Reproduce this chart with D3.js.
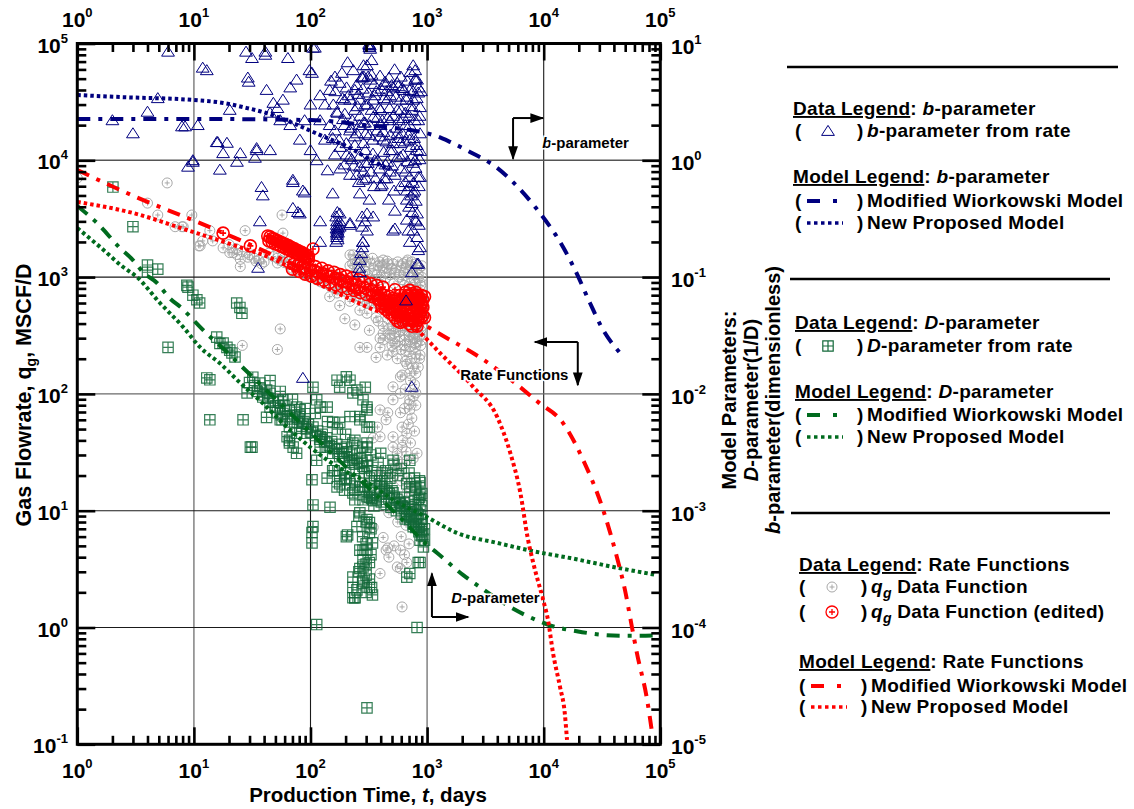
<!DOCTYPE html>
<html><head><meta charset="utf-8">
<script src="https://cdn.jsdelivr.net/npm/d3@7"></script>
<style>
body{margin:0;background:#fff}
svg{display:block;font-family:"Liberation Sans",Arial,Helvetica,sans-serif}
</style>
</head><body>
<svg id="chart" width="1134" height="809"></svg>
<script>
// ---------------- data: b-parameter (right axis, dimensionless) ----------------
const bFromRate = [
[6.0,8.5],[11.9,6.2],[28,8.5],[31.5,7.5],[41,8.0],[42,4.0],[64,7.5],[105,9.2],[29,5.1],[29.5,4.7],[67,4.2],[76,4.9],[98,5.9],
[2.0,2.2],[4.0,2.6],[4.9,3.4],[3.0,1.7],[7.9,1.95],[10.8,2.0],[20.3,2.7],[15.7,1.43],[19.2,1.41],[25,1.15],[34.5,1.22],[45,1.22],
[8.9,0.88],[9.8,0.97],[16.7,0.83],[23.4,0.97],[33.4,1.05],[38,0.59],[39,0.5],[70.6,0.65],[86,0.55],[70.6,0.39],[81,0.35],[36.8,0.3],
[121,0.3],[121,0.2],[35.5,0.12],[48,3.1],[58,3.3],[45,2.55],[52,2.8],[12.9,5.9],[41,8.5],[103,5.6],[109,9.2],[208,6.9],[320,9.7],
[334,7.2],[305,6.5],[277,5.1],[334,5.4],[760,6.5],[790,4.9],[8.4,1.95],[9.8,1.0],[16,1.43],[17.8,1.15],[34.5,1.27],[70.6,0.68],
[89,0.53],[78,0.36],[178,0.35],[178,0.3],[172,0.24],[169,0.22],[172,0.26],[166,0.2],[218,0.28],[277,0.33],[294,0.3],[305,0.25],
[282,0.2],[530,0.26],[265,0.14],[265,0.11],[820,0.13],[840,0.17],[790,0.31],[820,0.35],[670,0.46],[760,0.53],[760,0.64],[710,0.72],
[870,0.72],[660,0.063],[740,0.11],[740,0.0115],[86,0.0137],
[285,6.5],[312,5.2],[277,5.2],[320,9.3],[510,4.2],[555,4.6],[610,4.15],[790,5.9],[820,4.9],[840,3.8],[760,3.3],[670,3.5],[650,2.55],
[555,2.7],[455,3.3],[400,2.7],[345,2.35],[285,2.1],[250,1.7],[218,1.8],[190,2.25],[170,2.55],[155,1.55],[180,1.3],[218,1.07],
[265,0.88],[282,0.68],[265,0.52],[320,0.46],[305,0.35],[277,0.27],[178,0.27],[218,0.29],[345,0.33],[510,0.25],[670,0.31],[740,0.43],
[670,0.55],[760,0.95],[820,1.22],[840,0.72],[590,1.07],[480,1.22],[420,1.5],[555,1.7],[710,1.5],[870,1.7],[840,2.2],[870,2.85],
[155,0.52],[162,5.2],[282,0.2],[870,0.18],[840,0.13],[710,0.2],
[121,3.6],[133,3.0],[146,4.0],[196,3.3],[240,4.0],[265,3.3],[355,3.6],[440,4.4],[480,3.6],[590,3.3],[710,4.0],[240,2.7],[295,3.0],
[196,2.0],[146,2.0],[121,2.2],[133,1.5],[240,1.35],[320,1.65],[400,2.0],[480,2.2],[650,2.0],[295,1.22],[355,1.0],[440,0.92],
[530,0.75],[590,0.6],[650,0.8],[790,1.0],[218,0.75],[400,0.6],[470,0.46],[530,0.37],[113,1.0],[100,1.22],[81,1.5],[89,2.2],
[100,3.0],[67,2.0],[55,2.2],[590,1.4],[710,2.0],[740,2.7],[162,1.12],[196,0.92],[140,0.82],
[169,0.23],[170,0.25],[168,0.28],[171,0.21],[166,0.33],[170,0.36],[318,9.9],[322,9.6],[325,9.0],[262,0.12],
[150,4.8],[163,3.9],[178,4.6],[186,5.6],[204,4.2],[212,3.6],[233,5.9],[248,4.4],[258,3.7],[281,4.1],[287,5.2],[313,3.8],[327,4.9],
[352,4.5],[366,3.9],[395,5.3],[404,4.1],[436,4.7],[447,3.9],[472,5.1],[497,4.4],[526,6.0],[566,4.3],[596,5.2],[633,4.0],[676,4.8],
[716,5.7],[757,3.9],[795,5.0],[846,4.2],
[157,3.0],[168,2.6],[188,3.4],[197,2.5],[219,3.3],[228,2.2],[253,2.9],[266,2.4],[293,2.1],[306,3.0],[334,2.7],[347,3.3],[373,2.3],
[388,2.8],[413,2.2],[427,3.4],[458,2.3],[476,2.8],[512,2.4],[537,3.5],[574,2.2],[597,2.7],[628,2.3],[664,3.3],[703,2.4],[737,2.9],
[783,2.2],[815,3.4],[862,2.4],[886,3.9],
[162,1.8],[176,1.5],[203,1.4],[222,1.9],[238,1.6],[262,2.0],[284,1.4],[297,1.7],[323,2.0],[342,1.5],[372,1.8],[392,1.6],[423,1.75],
[447,1.45],[483,1.65],[508,1.4],[544,1.9],[567,1.55],[613,1.7],[648,1.45],[694,1.65],[726,1.3],[773,1.55],[816,1.35],[872,1.2],
[204,1.12],[226,1.02],[263,1.08],[296,0.95],[343,1.14],[377,1.0],[424,1.18],[457,0.97],[504,1.22],[556,1.06],[623,1.12],[677,0.98],
[744,1.08],[797,0.86],[862,1.02],
[600,0.85],[650,0.65],[700,0.6],[730,0.5],[780,0.55],[800,0.45],[850,0.6],[700,0.4],[750,0.36],[800,0.3],[690,0.25],[760,0.25],
[820,0.22],[850,0.28],[180,0.85],[250,0.75],[300,0.7],[330,0.8],[350,0.6],[430,0.7],[480,0.8],[520,0.55],
[168,0.24],[171,0.27],[169,0.3],[167,0.26],[272,0.16],[278,0.18],
[235,0.9],[260,0.65],[285,0.8],[310,0.95],[360,0.7],[390,0.85],[410,0.62],[450,0.7],[500,0.9]
];
const bModWiorkowski = [[1,2.26],[10,2.26],[100,2.21],[300,2.0],[1120,1.65],[1570,1.44],[2330,1.18],[3990,0.86],[5460,0.65],
[8590,0.39],[14650,0.181],[18580,0.115],[24950,0.060],[31600,0.0367],[45100,0.0224]];
const bNewModel = [[1,3.62],[2.33,3.48],[10,3.28],[17.8,3.1],[28.6,2.8],[39.2,2.59],[66.8,2.13],[120,1.65],[219,1.27],[306,1.05],
[396,0.91],[482,0.84]];

// ---------------- data: D-parameter (right axis, 1/D) ----------------
const dFromRate = [
[2.02,0.59],[3.0,0.27],[4.0,0.127],[4.9,0.117],[4.0,0.11],[8.7,0.085],[8.9,0.082],[9.8,0.070],[11.2,0.060],[6.0,0.025],[12.9,0.0137],
[13.7,0.006],[26.4,0.006],[31.5,0.0035],[23.3,0.060],[24.8,0.055],[25.8,0.049],[15.7,0.0306],[16.7,0.027],[19.2,0.025],[21.2,0.0224],
[22.5,0.0207],[28.6,0.0102],[32,0.0139],[36.8,0.0124],[42,0.0108],[45,0.0077],[52,0.0069],[57,0.006],[63,0.0043],[71,0.0035],
[81,0.0073],[86,0.0056],[93,0.0046],[113,0.0089],[139,0.0077],[169,0.0131],[218,0.0131],[250,0.0108],[282,0.0089],[305,0.0073],
[265,0.006],[305,0.0052],[231,0.0038],[190,0.0031],[121,0.0035],[113,0.0027],[103,0.00184],[105,0.00112],[147,0.00107],[155,0.0022],
[203,0.0019],[265,0.0016],[282,0.00124],[320,0.00142],[265,0.00096],[320,0.00079],[105,0.00073],[30.5,0.0035],[66,0.0038],[76,0.0031],
[103,0.00053],[169,0.0016],[203,0.0006],[231,0.00142],[305,0.00084],[320,0.00065],[305,0.00046],[282,0.00038],[231,0.00027],
[231,0.00022],[240,0.00018],[320,0.00022],[340,0.00019],[265,0.00046],[282,0.00033],[340,0.00053],[305,0.0035],[305,0.0027],
[400,0.0031],[455,0.0021],[400,0.0017],[510,0.00142],[590,0.00108],[670,0.00089],[760,0.00073],[870,0.00056],[930,0.00049],
[670,0.0017],[710,0.0016],[870,0.00174],[710,0.0027],[870,0.00036],[710,0.00029],[670,0.00027],[218,0.0026],[178,0.0029],
[139,0.0019],[340,0.00124],[10.6,0.064],[13.7,0.0132],[17.8,0.0272],[20.3,0.0237],[39,0.0094],[42,0.0063],[55,0.006],[58,0.0089],
[66,0.0052],[76,0.0077],[81,0.0064],[76,0.0046],[66,0.004],[105,0.0114],[121,0.0077],[155,0.0057],[178,0.0114],[203,0.014],
[231,0.0102],[295,0.0114],[305,0.0077],[320,0.0052],[265,0.0064],[218,0.0064],[178,0.0057],[121,0.0043],[139,0.0035],[155,0.0031],
[203,0.0035],[231,0.0027],[282,0.0024],[265,0.0031],[305,0.0038],[510,0.0027],[103,0.00065],[208,0.00062],[250,0.00073],
[282,0.00046],[320,0.00036],[282,0.00024],[240,0.00018],[113,0.000106],[305,0.0000205],[820,0.0001],[840,0.00036],[334,0.00022],
[231,0.00018],[265,0.00032],
[305,0.00132],[334,0.00128],[365,0.00124],[405,0.00119],[445,0.00113],[490,0.00107],[545,0.001],[600,0.00094],[650,0.00085],
[710,0.00084],[760,0.00077],[800,0.00072],[850,0.00066],[900,0.00061],[950,0.00056],[320,0.0015],[400,0.0014],[470,0.00128],
[590,0.00115],[710,0.00102],[840,0.00092],[900,0.00084],[790,0.0015],[870,0.00137],[840,0.00125],[790,0.00113],[870,0.00102],
[900,0.00076],[950,0.0007],[160,0.0022],[178,0.002],[196,0.00184],[218,0.0017],[240,0.0015],[196,0.0015],[240,0.00124],[178,0.0017],
[30,0.0125],[33,0.0118],[35,0.0105],[37,0.0112],[40,0.0098],[43,0.0092],[45,0.0101],[48,0.0085],[50,0.0079],[53,0.0088],[55,0.0075],
[58,0.0068],[60,0.0079],[63,0.0064],[66,0.0072],[70,0.0061],[73,0.0066],[77,0.0057],[80,0.0061],[84,0.0053],[88,0.0058],[92,0.005],
[96,0.0055],[100,0.0047],[105,0.0052],[110,0.0044],[115,0.0048],[120,0.0041],[126,0.0045],[132,0.0039],[138,0.0042],[145,0.0036],
[152,0.0039],[160,0.0034],[168,0.0037],[176,0.0031],[185,0.0034],[195,0.0029],[205,0.0032],[215,0.0027],[226,0.003],[238,0.0025],
[250,0.0028],[263,0.0023],[276,0.0026],[290,0.0021],[305,0.0024],[320,0.0019],[336,0.0022],[353,0.0018],[370,0.002],[390,0.0016],
[410,0.0018],[430,0.0015],[452,0.0016],[475,0.0014],[500,0.00148],[525,0.0013],[550,0.00125],[580,0.00118],[610,0.0011],
[640,0.00105],[670,0.00098],[700,0.00092],[735,0.00088],[770,0.00082],[810,0.00077],[850,0.00072],[890,0.00066],[920,0.00063],
[45,0.013],[55,0.0105],[70,0.009],[90,0.0075],[110,0.0068],[140,0.0058],[170,0.005],[200,0.0045],[240,0.004],[280,0.0035],
[330,0.003],[380,0.0026],[440,0.0022],[200,0.0021],[240,0.0018],[280,0.0016],[320,0.0013],[350,0.0011],[260,0.0009],[300,0.0008],
[330,0.0007],[280,0.0006],[300,0.00052],[330,0.00042],[300,0.00035],[260,0.0003],[300,0.00028],[280,0.00025],[250,0.00021],
[320,0.00026],[300,0.0002],[640,0.0013],[700,0.0012],[760,0.00105],[820,0.00095],[880,0.00085],[900,0.0011],[860,0.0013],
[800,0.0016],[900,0.0014],[780,0.0019],[860,0.0018],[700,0.0021],[600,0.0023],[560,0.002],[480,0.0019],[520,0.0025]
];
const dModWiorkowski = [[1,0.406],[1.48,0.29],[2.33,0.177],[3.0,0.14],[3.66,0.11],[4.83,0.089],[6.2,0.066],[7.9,0.054],[10.6,0.040],
[13.2,0.032],[16.7,0.026],[23.4,0.0188],[81,0.0057],[218,0.0022],[590,0.00087],[1000,0.00051],[1220,0.000434],[2030,0.000282],
[2840,0.000222],[5130,0.00015],[8620,0.000116],[11100,0.000105],[19200,0.000093],[34700,0.000086],[51300,0.000085],[66100,0.000085],
[98000,0.000086]];
const dNewModel = [[1,0.263],[1.57,0.181],[2.47,0.122],[3.25,0.1],[5.12,0.06],[8.1,0.0373],[11.3,0.0251],[16.7,0.0183],[25,0.0124],
[39,0.0083],[58,0.0056],[190,0.00223],[305,0.00176],[510,0.00124],[1000,0.00088],[1800,0.000645],[3990,0.00053],[8800,0.000443],
[16900,0.000393],[39500,0.00033],[91900,0.000282]];

// ---------------- data: gas flowrate (left axis, MSCF/D) ----------------
const qData = [
[1.0,7050],[5.9,6400],[4.0,4300],[4.9,3400],[6.9,2700],[7.9,2700],[9.6,3400],[11,1850],[13.7,2500],[20.3,1620],[25,1230],[27.5,2500],
[57,3400],[58,2380],[8.1,2700],[11.9,2040],[17.8,1780],[21.6,1620],[25,1420],[11.3,1850],[14.5,2040],[52,1320],[23.3,1560],[29,1480],
[34,1370],[38,1300],[60,1480],[74,1230],[90,1130],[117,1020],[142,930],[178,840],[226,790],[290,750],[370,690],[460,650],[232,1550],
[265,1420],[395,1200],[455,1370],[670,1350],[710,1100],[320,840],[305,490],[320,350],[395,300],[305,250],[395,250],[510,230],[555,200],
[670,180],[710,150],[590,101],[710,89],[510,89],[590,69],[670,46],[510,43],[395,43],[555,31],[610,25],[670,19],[375,52],[445,60],
[395,21],[510,19.5],[555,27],[610,35],[445,4.6],[590,4.6],[470,4.0],[555,3.3],[670,3.6],[395,2.9],[610,1.5],[590,3.2],[460,4.8],
[169,730],[305,600],[365,450],[420,290],[455,215],[365,205],[590,140],[510,115],[710,73],[395,73],[460,69],[610,52],[345,42],
[510,35],[670,27],[420,22],[555,23],[820,31],[282,17.5],[395,14.1],[670,14.1],[820,10.1],[470,9.6],[345,7.2],[420,5.9],[55,360],
[52,240],[26,260],[265,250],[218,1250],[240,1000],[295,1120],[340,940],[440,980],[530,1090],[610,950],[710,880],[840,980],[870,780],
[590,350],[480,320],[710,290],[870,320],[530,270],[790,250],[650,235],[870,215],[740,200],[840,170],[610,145],[800,102],[265,520],
[218,620],[178,570],[146,680],[197,440],[240,390],[169,1100],[218,1550],[240,1400],[290,1450],
[20,1900],[23,1750],[26,1650],[30,1550],[33,1450],[36,1400],[40,1350],[44,1600],[48,1500],[52,1450],[56,1380],[60,1330],[65,1280],
[70,1190],[76,1150],[82,1100],[88,1060],[95,1020],[103,990],[112,950],[122,910],[133,880],[145,850],[158,820],[172,790],[188,760],
[205,740],[224,710],[245,690],[268,670],[293,640],[320,620],[350,600],[383,580],[420,560],[460,540],[500,520],
[230,1300],[250,1150],[270,1350],[290,1250],[310,1050],[330,1300],[350,1150],[370,1050],[390,1350],[410,1250],[430,1100],[450,1200],
[480,1050],[510,1300],[540,1150],[570,1000],[600,1250],[630,1100],[660,1200],[690,1000],[720,1250],[750,1100],[780,950],[810,1150],
[840,1050],[870,900],[900,1000],[400,950],[520,880],[640,850],[760,820],[880,850],
[420,380],[470,360],[520,330],[580,310],[640,290],[700,320],[760,300],[820,280],[880,350],[900,290],[500,260],[600,240],[700,230],
[800,220],[860,200],[650,190],[750,170],[800,150],[720,130],[780,120],[650,110],[760,95],[700,82],[800,80],[640,75],[740,62],[690,55],
[780,48],[620,40],[720,38],[660,32],[760,28],[600,18],[700,16],[640,12],[740,11],[560,8],[660,7.5],[600,6],[700,5.2],[520,5],[640,4.2],
[380,420],[420,330],[460,440],[500,380],[540,340],[580,400],[620,350],[660,380],[700,340],[740,360],[780,330],[820,360],[860,310],
[900,380],[480,300],[560,280],[640,260],[720,280],[800,270],[880,260],
[300,1350],[340,1450],[380,1250],[420,1400],[460,1300],[500,1180],[560,1350],[620,1300],[680,1400],[740,1350],[800,1300],[860,1200],
[900,1250],[250,1300],[280,1500]
];
const qDataEdited = [
[17.8,2380],[30.5,1850],[105,1740],
[43,2250],[45,2210],[47,2140],[49,2120],[51,2060],[53,2040],[55,1990],[57,1970],[59,1920],[61,1910],[63,1860],[65,1850],[67,1800],
[69,1790],[71,1750],[73,1745],[75,1700],[78,1690],[81,1640],[84,1630],[87,1580],[90,1570],[93,1520],[96,1510],
[44,2040],[47,1990],[50,1920],[53,1890],[56,1830],[59,1810],[62,1750],[65,1730],[68,1680],[71,1660],[74,1610],[77,1600],[80,1550],
[84,1530],[88,1470],[92,1460],[96,1410],
[66,1340],[72,1290],[78,1270],[85,1220],[92,1200],[100,1150],[108,1135],[117,1090],[127,1075],[138,1030],[150,1015],[163,975],
[177,960],[192,920],[208,905],[226,870],[245,860],[266,820],[289,810],[313,775],[340,765],[369,735],[400,725],[434,695],[471,685],
[511,655],[555,650],[602,620],
[70,1170],[80,1120],[90,1060],[102,1020],[115,975],[130,940],[146,900],[165,860],[186,830],[210,795],[237,770],[268,735],[302,710],
[341,680],[385,655],[434,630],[490,600],
[110,1230],[125,1190],[141,1130],[159,1100],[180,1050],[203,1020],[229,985],[258,950],[291,915],[328,880],[370,850],[418,820],
[380,640],[400,600],[430,580],[460,610],[380,700],[410,560],[440,530],[470,500],[500,560],[500,480],[530,450],[530,520],[560,600],
[560,480],[560,420],[590,700],[590,540],[590,460],[590,410],[620,640],[620,560],[620,480],[620,420],[650,740],[650,640],[650,520],
[650,450],[680,700],[680,600],[680,500],[680,430],[710,770],[710,650],[710,560],[710,470],[740,720],[740,620],[740,520],[740,440],
[740,380],[770,690],[770,580],[770,490],[770,420],[800,740],[800,640],[800,550],[800,460],[800,400],[830,700],[830,600],[830,510],
[830,430],[860,660],[860,560],[860,480],[890,700],[890,600],[890,520],[890,450],[920,640],[920,550],[920,470],[950,680],[950,450],
[395,640],[435,590],[480,540],[530,640],[590,620],[650,580],[710,600],[790,700],[870,640],[900,590],[530,780],[820,380],[700,400]
];
const qModWiorkowski = [[1,8260],[4,4400],[8.4,3270],[21.7,2200],[100,1100],[300,670],[791,430],[1485,300],[2850,205],[4860,140],
[8970,85],[14700,56],[21870,27],[32400,10.1],[42460,4.0],[49800,2.09],[57200,1.0],[63100,0.6],[77100,0.24],[85100,0.125]];
const qNewModel = [[1,4400],[3,3540],[8.7,2530],[21.7,1885],[50,1400],[100,950],[300,560],[822,352],[1290,224],[2480,115],
[3990,63.5],[5180,31],[6310,14.2],[7300,5.8],[8150,3.55],[9890,1.72],[10890,1.16],[12020,0.605],[13800,0.31],[15150,0.186],
[15850,0.109]];

// ---------------- axis ticks ----------------
const xMajor = [1,10,100,1000,10000,100000];
const yLeftMajor = [0.1,1,10,100,1000,10000,100000];
const yRightMajor = [1e-5,1e-4,1e-3,1e-2,1e-1,1,10];

// ---------------- colors ----------------
const BLUE = "#00007f", RED = "#ff0000", GREEN = "#006b1e", SQ = "#13693a", GRAY = "#a8a8a8";

const svg = d3.select("#chart");
const L = 77.3, R = 660.3, T = 43.5, B = 744.3;
const x = d3.scaleLog().domain([1,1e5]).range([L,R]);
const yL = d3.scaleLog().domain([0.1,1e5]).range([B,T]);
const yR = d3.scaleLog().domain([1e-5,10]).range([B,T]);

// minor tick values from decades
function minors(lo, hi){ const out=[]; for(let d=lo; d<hi*0.999; d*=10){ for(let k=2;k<=9;k++) out.push(d*k); } return out; }
const xMinor = minors(1,1e5), yLMinor = minors(0.1,1e5);

// gridlines
const grid = svg.append("g");
const vGridStyle = {10:["#8a8a8a",1.6],100:["#1a1a1a",1.1],1000:["#8a8a8a",1.6],10000:["#1a1a1a",1.1]};
[10,100,1000,10000].forEach(v=>{
  grid.append("line").attr("x1",x(v)).attr("x2",x(v)).attr("y1",T).attr("y2",B)
    .attr("stroke",vGridStyle[v][0]).attr("stroke-width",vGridStyle[v][1]);
});
const hGridStyle = {1:["#1a1a1a",1.1],10:["#1a1a1a",1.1],100:["#6a6a6a",1.4],1000:["#1a1a1a",1.1],10000:["#555",1.4]};
[1,10,100,1000,10000].forEach(v=>{
  grid.append("line").attr("x1",L).attr("x2",R).attr("y1",yL(v)).attr("y2",yL(v))
    .attr("stroke",hGridStyle[v][0]).attr("stroke-width",hGridStyle[v][1]);
});

// clip for plot contents
svg.append("defs").append("clipPath").attr("id","plotClip").append("rect")
  .attr("x",L).attr("y",T).attr("width",R-L).attr("height",B-T);
const plot = svg.append("g").attr("clip-path","url(#plotClip)");

// marker shapes
const triPath = "M0,-5.6L6.4,4.4L-6.4,4.4Z";
const sqPath = "M-5.2,-5.2h10.4v10.4h-10.4zM0,-5.2v10.4M-5.2,0h10.4";
const circPath = r => `M${-r},0a${r},${r} 0 1,0 ${2*r},0a${r},${r} 0 1,0 ${-2*r},0M${-r*0.5},0h${r}M0,${-r*0.5}v${r}`;

plot.append("g").selectAll("path").data(qData).join("path")
  .attr("d",circPath(5)).attr("transform",d=>`translate(${x(d[0])},${yL(d[1])})`)
  .attr("fill","none").attr("stroke",GRAY).attr("stroke-width",1);
plot.append("g").selectAll("path").data(qDataEdited).join("path")
  .attr("d",circPath(6)).attr("transform",d=>`translate(${x(d[0])},${yL(d[1])})`)
  .attr("fill","none").attr("stroke",RED).attr("stroke-width",1.6);
plot.append("g").selectAll("path").data(dFromRate).join("path")
  .attr("d",sqPath).attr("transform",d=>`translate(${x(d[0])},${yR(d[1])})`)
  .attr("fill","none").attr("stroke",SQ).attr("stroke-width",1.2).attr("stroke-opacity",0.85);
plot.append("g").selectAll("path").data(bFromRate).join("path")
  .attr("d",triPath).attr("transform",d=>`translate(${x(d[0])},${yR(d[1])})`)
  .attr("fill","none").attr("stroke",BLUE).attr("stroke-width",1);

// model curves
const DASHDOT = "13,8,4,8", DOTTED = "3.5,3";
function curve(data, yScale, color, dash){
  plot.append("path").datum(data)
    .attr("d", d3.line().x(d=>x(d[0])).y(d=>yScale(d[1])).curve(d3.curveMonotoneX))
    .attr("fill","none").attr("stroke",color).attr("stroke-width",4)
    .attr("stroke-dasharray",dash).attr("stroke-linecap","butt");
}
curve(dNewModel, yR, GREEN, DOTTED);
curve(dModWiorkowski, yR, GREEN, DASHDOT);
curve(qNewModel, yL, RED, DOTTED);
curve(qModWiorkowski, yL, RED, DASHDOT);
curve(bNewModel, yR, BLUE, DOTTED);
curve(bModWiorkowski, yR, BLUE, DASHDOT);

// ticks (pointing inward) on all four sides
function ticks(axisGen, transform, vals, size){
  const g = svg.append("g").attr("transform",transform)
    .call(axisGen.tickValues(vals).tickSize(size).tickFormat(""));
  g.select(".domain").remove();
  g.selectAll("line").attr("stroke","#000").attr("stroke-width",2.6);
}
ticks(d3.axisBottom(x), `translate(0,${B})`, xMinor, -8.5);
ticks(d3.axisBottom(x), `translate(0,${B})`, xMajor, -17);
ticks(d3.axisTop(x), `translate(0,${T})`, xMinor, -8.5);
ticks(d3.axisTop(x), `translate(0,${T})`, xMajor, -17);
ticks(d3.axisLeft(yL), `translate(${L},0)`, yLMinor, -9);
ticks(d3.axisLeft(yL), `translate(${L},0)`, yLeftMajor, -18);
ticks(d3.axisRight(yL), `translate(${R},0)`, yLMinor, -9);
ticks(d3.axisRight(yL), `translate(${R},0)`, yLeftMajor, -18);

// frame
svg.append("rect").attr("x",L).attr("y",T).attr("width",R-L).attr("height",B-T)
  .attr("fill","none").attr("stroke","#000").attr("stroke-width",3);

// tick labels: 10 with superscript exponent
function powLabel(g, xp, yp, v, anchor){
  const e = Math.round(Math.log10(v));
  const t = g.append("text").attr("x",xp).attr("y",yp).attr("text-anchor",anchor)
    .attr("font-weight","bold").attr("font-size",21).attr("fill","#000");
  t.append("tspan").text("10");
  t.append("tspan").attr("dy",-10).attr("font-size",13).text(e);
}
const lab = svg.append("g");
xMajor.forEach(v=>{ powLabel(lab, x(v), 27, v, "middle"); powLabel(lab, x(v), 778, v, "middle"); });
yLeftMajor.forEach(v=>powLabel(lab, 68, yL(v)+9, v, "end"));
yRightMajor.forEach(v=>powLabel(lab, 671, yR(v)+10, v, "start"));

// axis titles
const bt = svg.append("text").attr("x",368).attr("y",802).attr("text-anchor","middle")
  .attr("font-weight","bold").attr("font-size",20.5);
bt.append("tspan").text("Production Time, ");
bt.append("tspan").attr("font-style","italic").text("t");
bt.append("tspan").text(", days");

const lt = svg.append("text").attr("transform","translate(31,395) rotate(-90)").attr("text-anchor","middle")
  .attr("font-weight","bold").attr("font-size",21.5);
lt.append("tspan").text("Gas Flowrate, q");
lt.append("tspan").attr("font-size",14).attr("dy",5).text("g");
lt.append("tspan").attr("dy",-5).text(", MSCF/D");

const rt = svg.append("g").attr("transform","translate(0,400)");
function rLine(xp, parts){
  const t = rt.append("text").attr("transform",`translate(${xp},0) rotate(-90)`).attr("text-anchor","middle")
    .attr("font-weight","bold").attr("font-size",20);
  parts.forEach(p=>t.append("tspan").attr("font-style",p[1]?"italic":"normal").text(p[0]));
}
rLine(736,[["Model Parameters:",false]]);
rLine(758,[["D",true],["-parameter(1/D)",false]]);
rLine(780,[["b",true],["-parameter(dimensionless)",false]]);

// in-plot annotations with arrows
const defs = svg.select("defs");
defs.append("marker").attr("id","ah").attr("viewBox","0 0 10 10").attr("refX",9).attr("refY",5)
  .attr("markerWidth",7).attr("markerHeight",7).attr("orient","auto-start-reverse")
  .append("path").attr("d","M0,1.5L10,5L0,8.5Z").attr("fill","#000");
const ann = svg.append("g");
function arrow(x1,y1,x2,y2){
  ann.append("line").attr("x1",x1).attr("y1",y1).attr("x2",x2).attr("y2",y2)
    .attr("stroke","#000").attr("stroke-width",2).attr("marker-end","url(#ah)");
}
function annText(xp, yp, parts){
  const t = ann.append("text").attr("x",xp).attr("y",yp).attr("font-weight","bold").attr("font-size",15)
    .attr("stroke","#fff").attr("stroke-width",3).attr("paint-order","stroke");
  parts.forEach(p=>t.append("tspan").attr("font-style",p[1]?"italic":"normal").text(p[0]));
}
// b-parameter arrow: right and down
arrow(x(5460), yR(2.3), x(9860), yR(2.3));
arrow(x(5460), yR(2.3), x(5460), yR(1.03));
annText(x(9700), yR(1.27), [["b",true],["-parameter",false]]);
// rate functions arrow: left and down
arrow(x(19600), yL(278), x(8400), yL(278));
arrow(x(19600), yL(278), x(19600), yL(119));
annText(x(1920), yL(131), [["Rate Functions",false]]);
// D-parameter arrow: up and right
arrow(x(1100), yL(1.23), x(1100), yL(2.9));
arrow(x(1100), yL(1.23), x(2250), yL(1.23));
annText(x(1610), yL(1.62), [["D",true],["-parameter",false]]);

// ---------------- legend ----------------
const lg = svg.append("g").attr("font-weight","bold").attr("font-size",19).attr("letter-spacing",0.3).attr("fill","#000");
function rule(y, x1, x2){ lg.append("line").attr("x1",x1).attr("x2",x2).attr("y1",y).attr("y2",y).attr("stroke","#000").attr("stroke-width",2.5); }
function head(xp, yp, title, rest){
  const t = lg.append("text").attr("x",xp).attr("y",yp);
  t.append("tspan").attr("text-decoration","underline").text(title);
  t.append("tspan").text(": ");
  rest.forEach(p=>t.append("tspan").attr("font-style",p[1]?"italic":"normal").text(p[0]));
}
function entry(xp, yp, sym, parts){
  lg.append("text").attr("x",xp).attr("y",yp).text("(");
  lg.append("text").attr("x",xp+62).attr("y",yp).text(")");
  sym(xp, yp);
  const t = lg.append("text").attr("x",xp+72).attr("y",yp);
  parts.forEach(p=>{
    const s = t.append("tspan").attr("font-style",p[1]?"italic":"normal").text(p[0]);
    if(p[2]) s.attr("font-size",14).attr("dy",5);
    if(p[3]) s.attr("dy",-5);
  });
}
const symMarker = (path, color, w) => (xp, yp) => lg.append("path").attr("d",path)
  .attr("transform",`translate(${xp+33},${yp-6})`).attr("fill","none").attr("stroke",color).attr("stroke-width",w);
const symDashDot = color => (xp, yp) => {
  lg.append("line").attr("x1",xp+12).attr("x2",xp+25).attr("y1",yp-6).attr("y2",yp-6).attr("stroke",color).attr("stroke-width",4);
  lg.append("line").attr("x1",xp+38).attr("x2",xp+42).attr("y1",yp-6).attr("y2",yp-6).attr("stroke",color).attr("stroke-width",4);
};
const symDotted = color => (xp, yp) => {
  lg.append("line").attr("x1",xp+12).attr("x2",xp+48).attr("y1",yp-6).attr("y2",yp-6).attr("stroke",color)
    .attr("stroke-width",3.5).attr("stroke-dasharray","3.5,3.5");
};

rule(67, 787, 1118);
head(793, 115, "Data Legend", [["b",true],["-parameter",false]]);
entry(795, 137, symMarker(triPath, BLUE, 1), [["b",true],["-parameter from rate",false]]);
head(793, 183, "Model Legend", [["b",true],["-parameter",false]]);
entry(795, 207, symDashDot(BLUE), [["Modified Wiorkowski Model",false]]);
entry(795, 229, symDotted(BLUE), [["New Proposed Model",false]]);

rule(279, 790, 1110);
head(795, 329, "Data Legend", [["D",true],["-parameter",false]]);
entry(795, 352, symMarker(sqPath, SQ, 1.2), [["D",true],["-parameter from rate",false]]);
head(795, 398, "Model Legend", [["D",true],["-parameter",false]]);
entry(795, 421, symDashDot(GREEN), [["Modified Wiorkowski Model",false]]);
entry(795, 443, symDotted(GREEN), [["New Proposed Model",false]]);

rule(513, 791, 1110);
head(799, 571, "Data Legend", [["Rate Functions",false]]);
entry(799, 593, symMarker(circPath(5), GRAY, 1), [["q",true],["g",true,true],[" Data Function",false,false,true]]);
entry(799, 618, symMarker(circPath(6), RED, 1.3), [["q",true],["g",true,true],[" Data Function (edited)",false,false,true]]);
head(799, 668, "Model Legend", [["Rate Functions",false]]);
entry(799, 692, symDashDot(RED), [["Modified Wiorkowski Model",false]]);
entry(799, 713, symDotted(RED), [["New Proposed Model",false]]);
</script>
</body></html>
